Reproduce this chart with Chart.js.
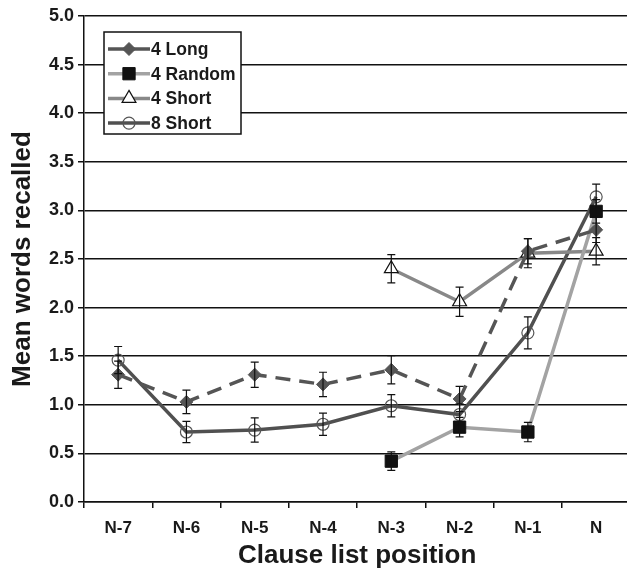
<!DOCTYPE html>
<html>
<head>
<meta charset="utf-8">
<script src="https://cdn.jsdelivr.net/npm/chart.js@4.4.0/dist/chart.umd.min.js"></script>
<style>
  html, body { margin: 0; padding: 0; background: #fff; }
  #wrap { width: 627px; height: 572px; overflow: hidden; }
</style>
</head>
<body>
<div id="wrap"><canvas id="chart" width="640" height="572"></canvas></div>
<script>
// clause list positions
const positions = ['N-7', 'N-6', 'N-5', 'N-4', 'N-3', 'N-2', 'N-1', 'N'];
const yTicks = [0, 0.5, 1, 1.5, 2, 2.5, 3, 3.5, 4, 4.5, 5];

// mean words recalled, with error bar half-lengths
const long4 = [1.31, 1.03, 1.31, 1.21, 1.36, 1.06, 2.58, 2.80];
const long4Err = [0.14, 0.12, 0.13, 0.125, 0.145, 0.13, 0.13, 0.13];
const random4 = [null, null, null, null, 0.42, 0.77, 0.72, 2.99];
const random4Err = [null, null, null, null, 0.095, 0.10, 0.10, 0.12];
const short4 = [null, null, null, null, 2.40, 2.06, 2.56, 2.58];
const short4Err = [null, null, null, null, 0.145, 0.15, 0.15, 0.14];
const short8 = [1.46, 0.72, 0.74, 0.80, 0.99, 0.90, 1.74, 3.14];
const short8Err = [0.14, 0.11, 0.125, 0.115, 0.115, 0.11, 0.165, 0.13];

const FONT = '"Liberation Sans", Arial, sans-serif';
const TEXT = '#1a1a1a';

const errorBars = {
  id: 'errorBars',
  afterDatasetsDraw(chart) {
    const ctx = chart.ctx;
    const y = chart.scales.y;
    ctx.save();
    ctx.strokeStyle = '#111';
    ctx.lineWidth = 1.2;
    chart.data.datasets.forEach((ds, i) => {
      const meta = chart.getDatasetMeta(i);
      ds.data.forEach((v, j) => {
        if (v == null || ds.errors[j] == null) return;
        const px = meta.data[j].x;
        const top = y.getPixelForValue(v + ds.errors[j]);
        const bot = y.getPixelForValue(v - ds.errors[j]);
        ctx.beginPath();
        ctx.moveTo(px, top); ctx.lineTo(px, bot);
        ctx.moveTo(px - 4, top); ctx.lineTo(px + 4, top);
        ctx.moveTo(px - 4, bot); ctx.lineTo(px + 4, bot);
        ctx.stroke();
      });
    });
    ctx.restore();
  }
};

const boxLegend = {
  id: 'boxLegend',
  afterDraw(chart) {
    const ctx = chart.ctx;
    const bx = 104, by = 32, bw = 137, bh = 102;
    ctx.save();
    ctx.fillStyle = '#fff';
    ctx.fillRect(bx, by, bw, bh);
    ctx.strokeStyle = '#111';
    ctx.lineWidth = 1.5;
    ctx.strokeRect(bx, by, bw, bh);
    chart.data.datasets.forEach((ds, i) => {
      const ry = by + 17 + i * 24.7;
      ctx.strokeStyle = ds.borderColor;
      ctx.lineWidth = ds.borderWidth;
      ctx.setLineDash([]);
      ctx.beginPath();
      ctx.moveTo(bx + 4, ry); ctx.lineTo(bx + 46, ry);
      ctx.stroke();
      ctx.fillStyle = ds.pointBackgroundColor;
      ctx.strokeStyle = ds.pointBorderColor;
      ctx.lineWidth = ds.pointBorderWidth;
      Chart.helpers.drawPoint(ctx, { pointStyle: ds.pointStyle, radius: ds.pointRadius, rotation: 0, borderWidth: ds.pointBorderWidth }, bx + 25, ry);
      ctx.fillStyle = TEXT;
      ctx.font = 'bold 17.5px ' + FONT;
      ctx.textBaseline = 'middle';
      ctx.textAlign = 'left';
      ctx.fillText(ds.label, bx + 47, ry + 1);
    });
    ctx.restore();
  }
};

new Chart(document.getElementById('chart'), {
  type: 'line',
  data: {
    labels: positions,
    datasets: [
      {
        label: '4 Long', data: long4, errors: long4Err,
        borderColor: '#555', borderWidth: 3.5, borderDash: [15, 9],
        pointStyle: 'rectRot', pointRadius: 6.5,
        pointBackgroundColor: '#555', pointBorderColor: '#555', pointBorderWidth: 1
      },
      {
        label: '4 Random', data: random4, errors: random4Err,
        borderColor: '#a3a3a3', borderWidth: 3.5,
        pointStyle: 'rect', pointRadius: 8.7,
        pointBackgroundColor: '#111', pointBorderColor: '#111', pointBorderWidth: 1
      },
      {
        label: '4 Short', data: short4, errors: short4Err,
        borderColor: '#888', borderWidth: 3.5,
        pointStyle: 'triangle', pointRadius: 8,
        pointBackgroundColor: '#fff', pointBorderColor: '#111', pointBorderWidth: 1.2
      },
      {
        label: '8 Short', data: short8, errors: short8Err,
        borderColor: '#505050', borderWidth: 3.5,
        pointStyle: 'circle', pointRadius: 6,
        pointBackgroundColor: 'rgba(255,255,255,0)', pointBorderColor: '#555', pointBorderWidth: 1.2
      }
    ]
  },
  options: {
    responsive: false,
    animation: false,
    layout: { padding: { top: 16, right: 4, left: 0, bottom: 0 } },
    plugins: { legend: { display: false }, tooltip: { enabled: false } },
    elements: { line: { tension: 0 } },
    scales: {
      x: {
        offset: true,
        afterFit(s) { s.height = 70; },
        grid: { offset: true, drawOnChartArea: false, drawTicks: true, tickLength: 6, color: '#111', lineWidth: 1.5 },
        border: { color: '#111', width: 1.5 },
        ticks: { color: TEXT, padding: 10, font: { family: FONT, size: 17, weight: 'bold' } },
        title: { display: true, text: 'Clause list position', color: TEXT, padding: { top: 0, bottom: 1 }, font: { family: FONT, size: 26, weight: 'bold' } }
      },
      y: {
        min: 0, max: 5,
        afterFit(s) { s.width = 84; },
        afterBuildTicks(s) { s.ticks = yTicks.map(v => ({ value: v })); },
        grid: { color: '#111', lineWidth: 1.5, drawTicks: true, tickLength: 6 },
        border: { color: '#111', width: 1.5 },
        ticks: { color: TEXT, padding: 4, font: { family: FONT, size: 18, weight: 'bold' }, callback: v => v.toFixed(1) },
        title: { display: true, text: 'Mean words recalled', color: TEXT, padding: { top: 7 }, font: { family: FONT, size: 26, weight: 'bold' } }
      }
    }
  },
  plugins: [errorBars, boxLegend]
});
</script>
</body>
</html>
